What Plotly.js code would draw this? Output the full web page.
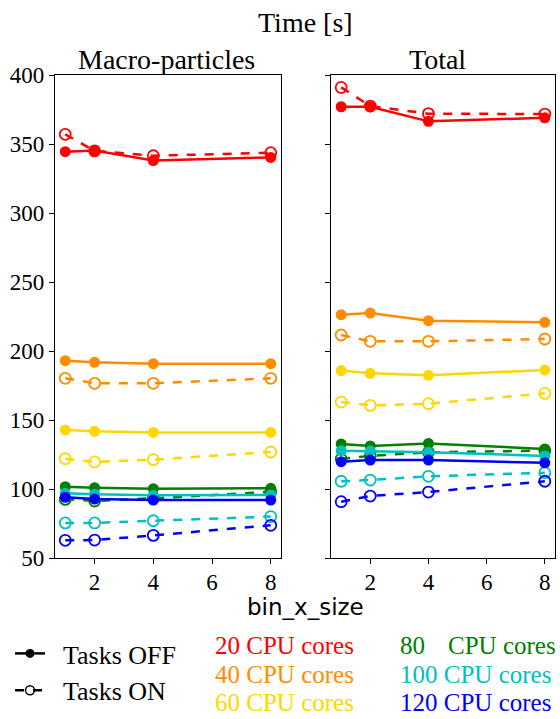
<!DOCTYPE html>
<html>
<head>
<meta charset="utf-8">
<script src="https://cdn.plot.ly/plotly-3.0.1.min.js"></script>
<style>html,body{margin:0;padding:0;background:#fff;}#plot{width:560px;height:719px;}</style>
</head>
<body>
<div id="plot"></div>
<script>
// ---- data ----
const binX = [1, 2, 4, 8];
const coreCounts = [20, 40, 60, 80, 100, 120];
const coreColors = ['#ff0000', '#ff8c00', '#ffd700', '#008000', '#00bfbf', '#0000ff'];

const macroOff20 = [344.4, 345.2, 338.0, 340.3];
const macroOn20  = [357.0, 345.0, 341.5, 343.7];
const macroOff40 = [193.0, 191.8, 190.8, 190.8];
const macroOn40  = [180.2, 176.6, 176.6, 180.2];
const macroOff60 = [142.8, 141.8, 141.0, 141.0];
const macroOn60  = [122.0, 119.6, 121.3, 126.8];
const macroOff80 = [101.7, 100.9, 100.2, 100.5];
const macroOn80  = [92.5, 91.3, 93.3, 98.0];
const macroOff100 = [96.9, 96.2, 95.4, 95.7];
const macroOn100  = [75.4, 75.4, 77.0, 80.0];
const macroOff120 = [94.0, 92.7, 92.0, 92.0];
const macroOn120  = [62.8, 63.0, 66.4, 73.7];

const totalOff20 = [377.0, 377.0, 366.4, 369.0];
const totalOn20  = [391.0, 377.5, 372.0, 371.7];
const totalOff40 = [226.3, 227.5, 222.0, 220.8];
const totalOn40  = [211.6, 207.0, 207.0, 208.7];
const totalOff60 = [185.8, 183.8, 182.4, 186.2];
const totalOn60  = [163.0, 160.6, 161.8, 169.3];
const totalOff80 = [132.6, 131.2, 133.0, 129.0];
const totalOn80  = [121.7, 124.0, 126.6, 127.8];
const totalOff100 = [127.8, 127.5, 126.6, 124.0];
const totalOn100  = [105.6, 106.5, 109.2, 111.8];
const totalOff120 = [119.8, 121.0, 121.0, 119.0];
const totalOn120  = [90.8, 94.9, 97.8, 105.6];

const xTicks = [2, 4, 6, 8];
const yTicks = [50, 100, 150, 200, 250, 300, 350, 400];

const macroOff = [macroOff20, macroOff40, macroOff60, macroOff80, macroOff100, macroOff120];
const macroOn  = [macroOn20, macroOn40, macroOn60, macroOn80, macroOn100, macroOn120];
const totalOff = [totalOff20, totalOff40, totalOff60, totalOff80, totalOff100, totalOff120];
const totalOn  = [totalOn20, totalOn40, totalOn60, totalOn80, totalOn100, totalOn120];

// ---- traces ----
const SERIF = '"Liberation Serif", "Times New Roman", serif';
const SANS = '"DejaVu Sans", sans-serif';
const traces = [];
function addPair(off, on, color, xa, ya) {
  traces.push({x: binX, y: off, xaxis: xa, yaxis: ya, mode: 'lines+markers', showlegend: false,
    line: {color: color, width: 2.5}, marker: {color: color, size: 11, symbol: 'circle'}});
  traces.push({x: binX, y: on, xaxis: xa, yaxis: ya, mode: 'lines+markers', showlegend: false,
    line: {color: color, width: 2.5, dash: 'dash'},
    marker: {color: color, size: 11, symbol: 'circle-open', line: {color: color, width: 1.8}}});
}
coreCounts.forEach((c, i) => {
  addPair(macroOff[i], macroOn[i], coreColors[i], 'x', 'y');
  addPair(totalOff[i], totalOn[i], coreColors[i], 'x2', 'y2');
});
// legend entries
const NB = '\u00A0\u00A0';
traces.push({x: [null], y: [null], mode: 'lines+markers', name: NB + 'Tasks OFF',
  line: {color: '#000', width: 2.5}, marker: {color: '#000', size: 9, symbol: 'circle'}});
traces.push({x: [null], y: [null], mode: 'lines+markers', name: NB + 'Tasks ON',
  line: {color: '#000', width: 2.5, dash: 'dash'},
  marker: {color: '#000', size: 9, symbol: 'circle-open', line: {color: '#000', width: 1.5}}});

const W = 560, H = 719;
const yDom = [(H - 558) / H, (H - 75) / H];
function xAxis(domain, anchor) {
  return {domain: domain, anchor: anchor, range: [0.65, 8.35], tickvals: xTicks,
    ticktext: xTicks.map(String), ticks: 'outside', ticklen: 5, tickwidth: 1, tickcolor: '#000',
    showline: true, linecolor: '#000', linewidth: 1.2, mirror: true, showgrid: false, zeroline: false,
    ticklabelstandoff: -2,
    tickfont: {family: SERIF, size: 23, color: '#000'}};
}
function yAxis(anchor, showLabels) {
  return {domain: yDom, anchor: anchor, range: [50, 400], tickvals: yTicks,
    ticktext: yTicks.map(String), showticklabels: showLabels, ticks: 'outside', ticklen: 5,
    tickwidth: 1, tickcolor: '#000', showline: true, linecolor: '#000', linewidth: 1.2,
    mirror: true, showgrid: false, zeroline: false,
    tickfont: {family: SERIF, size: 23, color: '#000'}};
}

function ann(text, px, py, font, xanchor) {
  return {text: text, x: px / W, y: 1 - py / H, xref: 'paper', yref: 'paper', showarrow: false,
    xanchor: xanchor || 'center', yanchor: 'middle', font: font};
}
const annotations = [
  ann('Time [s]', 306, 22, {family: SERIF, size: 28, color: '#000'}),
  ann('Macro-particles', 166, 59, {family: SERIF, size: 28, color: '#000'}),
  ann('Total', 437, 59, {family: SERIF, size: 28, color: '#000'}),
  ann('bin_x_size', 305, 607, {family: SANS, size: 23, color: '#000'})
];
const legRows = [645, 674, 702];
coreCounts.forEach((c, i) => {
  const col = Math.floor(i / 3), row = i % 3;
  const f = {family: SERIF, size: 25, color: coreColors[i]};
  if (col === 0) {
    annotations.push(ann(c + ' CPU cores', 213, legRows[row], f, 'left'));
  } else if (c < 100) {
    annotations.push(ann(String(c), 398, legRows[row], f, 'left'));
    annotations.push(ann('CPU cores', 446, legRows[row], f, 'left'));
  } else {
    annotations.push(ann(c + ' CPU cores', 398, legRows[row], f, 'left'));
  }
});

const layout = {
  width: W, height: H,
  margin: {l: 0, r: 0, t: 0, b: 0},
  paper_bgcolor: '#fff', plot_bgcolor: '#fff',
  xaxis: xAxis([55 / W, 281 / W], 'y'),
  yaxis: yAxis('x', true),
  xaxis2: xAxis([331 / W, 555 / W], 'y2'),
  yaxis2: yAxis('x2', false),
  showlegend: true,
  legend: {x: 10 / W, y: 1 - 630 / H, xanchor: 'left', yanchor: 'top', bgcolor: 'rgba(0,0,0,0)',
    font: {family: SERIF, size: 26, color: '#000'}, itemwidth: 30, tracegroupgap: 0},
  annotations: annotations
};

Plotly.newPlot('plot', traces, layout, {displayModeBar: false, staticPlot: true});
</script>
</body>
</html>
